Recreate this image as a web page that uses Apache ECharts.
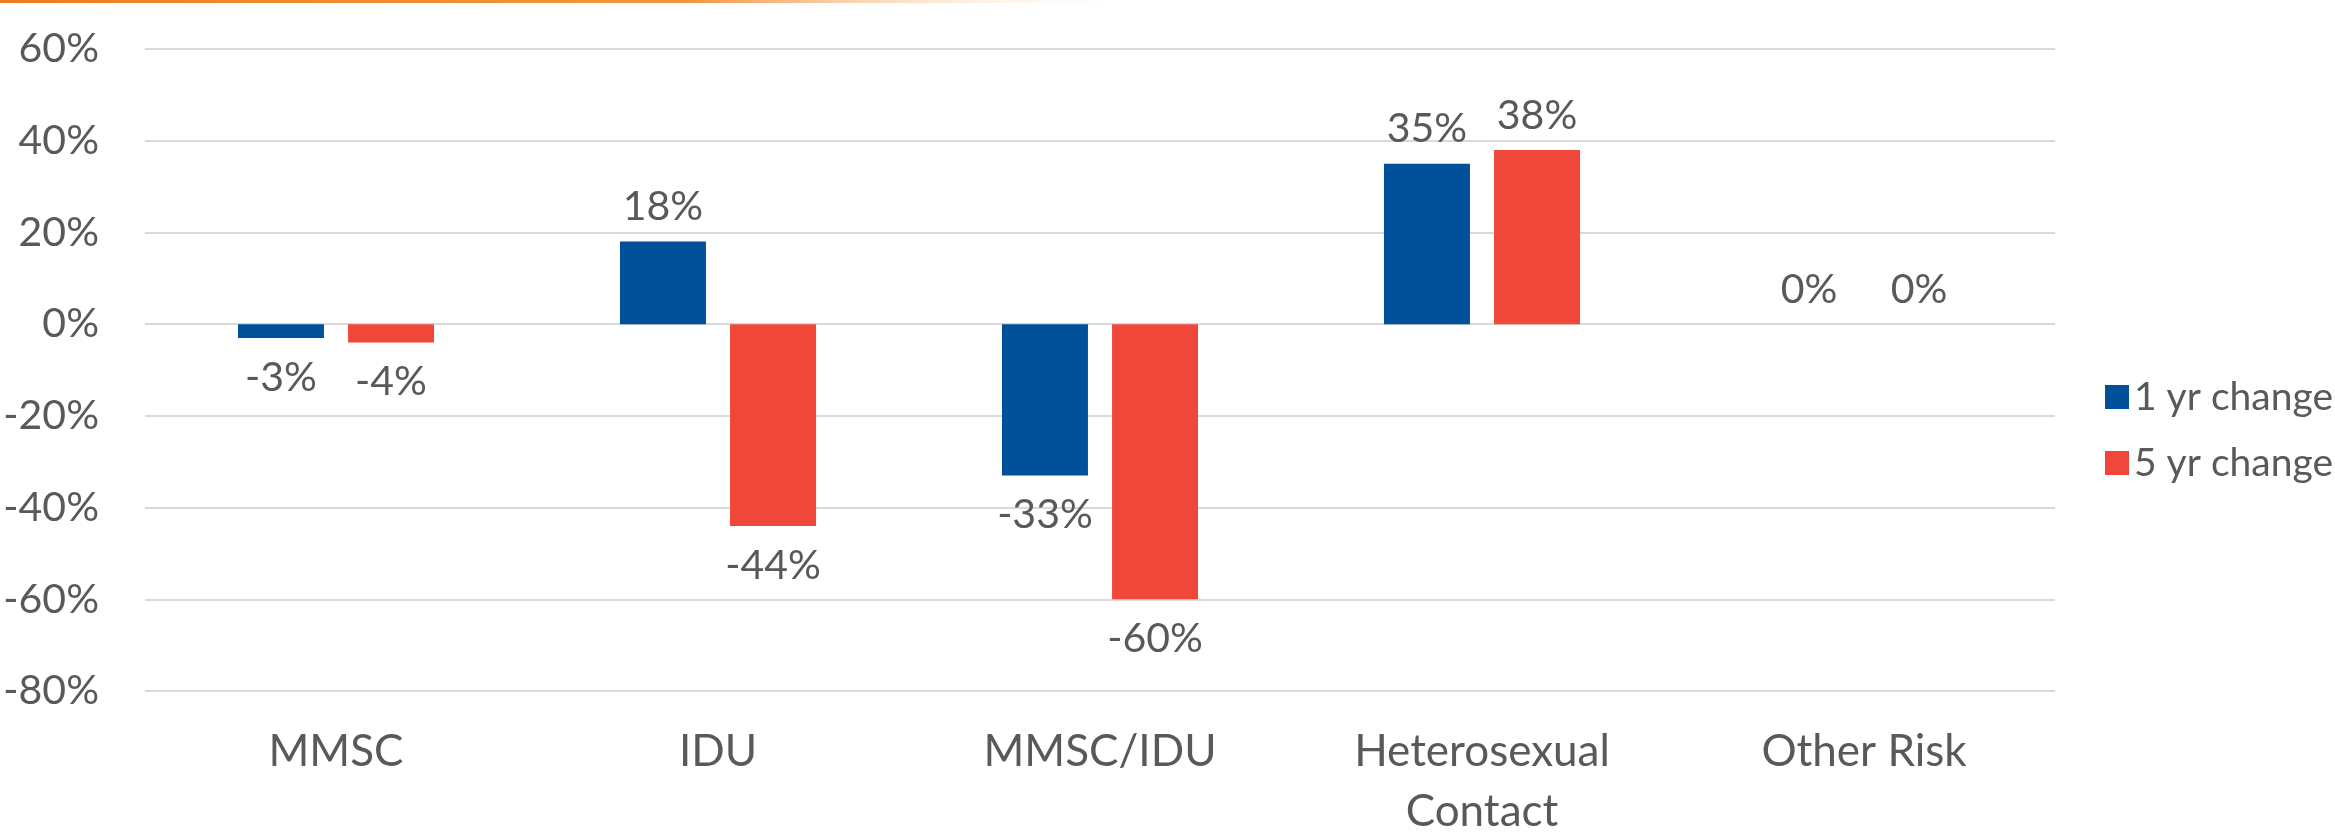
<!DOCTYPE html>
<html>
<head>
<meta charset="utf-8">
<script src="https://cdn.jsdelivr.net/npm/echarts@6/dist/echarts.min.js"></script>
<style>
  html, body { margin: 0; padding: 0; background: #fff; }
  #main { width: 2335px; height: 832px; }
</style>
</head>
<body>
<div id="main"></div>
<script>
// categories and values (percent change)
var categories = ['MMSC', 'IDU', 'MMSC/IDU', 'Heterosexual\nContact', 'Other Risk'];
var oneYear = [-3, 18, -33, 35, 0];
var fiveYear = [-4, -44, -60, 38, 0];
var seriesNames = ['1 yr change', '5 yr change'];
var yTicks = { min: -80, max: 60, interval: 20 };

var FONT = 'Lato';
var GREY = '#595959';

var chart = echarts.init(document.getElementById('main'));

// negative bars get their label underneath
function toItems(values) {
  return values.map(function (v) {
    return {
      value: v,
      label: v < 0 ? { position: 'bottom', distance: 19 } : { position: 'top', distance: 14 }
    };
  });
}

function barSeries(name, values, color) {
  return {
    name: name,
    type: 'bar',
    data: toItems(values),
    barWidth: 86,
    barGap: '28%',
    itemStyle: { color: color },
    label: {
      show: true,
      fontFamily: FONT,
      fontSize: 41,
      color: GREY,
      formatter: function (p) { return p.value + '%'; }
    }
  };
}

var option = {
  backgroundColor: '#ffffff',
  animation: false,
  graphic: [{
    // thin orange rule along the top edge
    type: 'rect',
    left: 0,
    top: 0,
    shape: { width: 1150, height: 3 },
    style: {
      fill: new echarts.graphic.LinearGradient(0, 0, 1, 0, [
        { offset: 0, color: '#EE7D1E' },
        { offset: 0.6, color: '#F0963F' },
        { offset: 1, color: 'rgba(255,255,255,0)' }
      ])
    }
  }],
  legend: {
    orient: 'vertical',
    left: 2100,
    top: 368,
    itemWidth: 24,
    itemHeight: 24,
    itemGap: 18,
    icon: 'rect',
    textStyle: {
      fontFamily: FONT,
      fontSize: 39,
      color: GREY,
      lineHeight: 48
    },
    data: seriesNames
  },
  grid: {
    left: 145,
    right: 280,
    top: 49,
    bottom: 141,
    containLabel: false,
    outerBoundsMode: 'none'
  },
  xAxis: {
    type: 'category',
    data: categories,
    axisLine: { show: false },
    axisTick: { show: false },
    axisLabel: {
      margin: 31,
      fontFamily: FONT,
      fontSize: 44,
      lineHeight: 60,
      color: GREY,
      interval: 0
    }
  },
  yAxis: {
    type: 'value',
    min: yTicks.min,
    max: yTicks.max,
    interval: yTicks.interval,
    axisLine: { show: false },
    axisTick: { show: false },
    splitLine: { lineStyle: { color: '#D9D9D9', width: 2 } },
    axisLabel: {
      margin: 46,
      fontFamily: FONT,
      fontSize: 41,
      color: GREY,
      formatter: '{value}%'
    }
  },
  series: [
    barSeries(seriesNames[0], oneYear, '#00509A'),
    barSeries(seriesNames[1], fiveYear, '#EF473A')
  ]
};

chart.setOption(option);
</script>
</body>
</html>
